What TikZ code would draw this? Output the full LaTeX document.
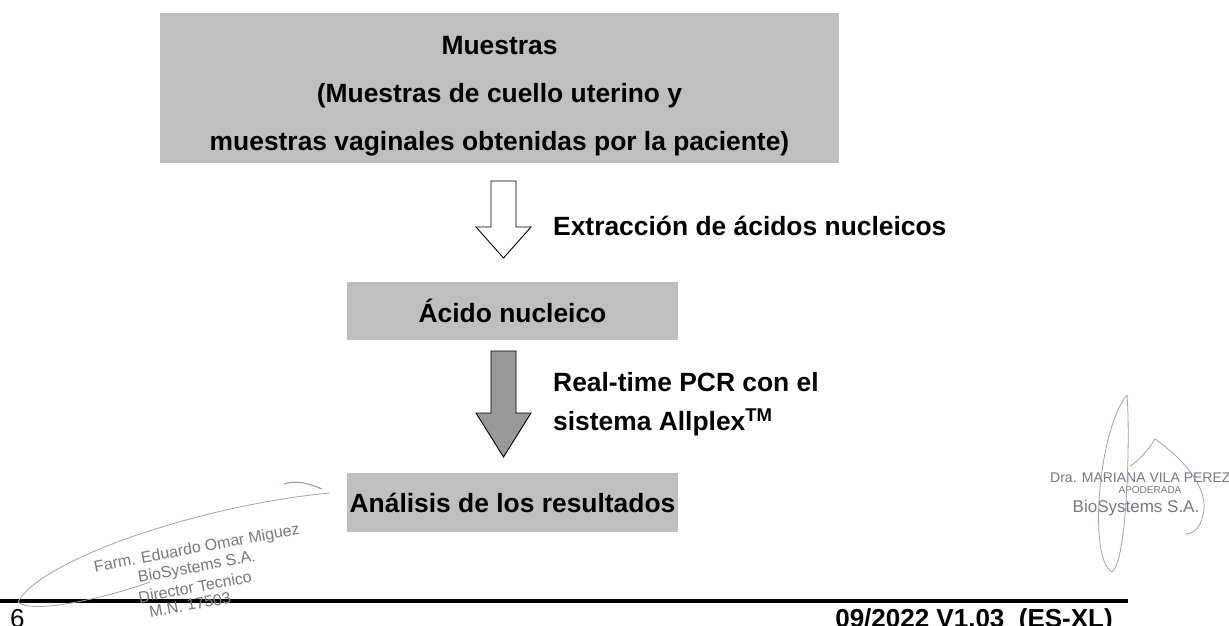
\documentclass[tikz,border=0pt]{standalone}
\usepackage{fontspec}
\setmainfont{Liberation Sans}
\usetikzlibrary{calc}
\definecolor{boxgray}{RGB}{191,191,191}
\definecolor{arrgray}{RGB}{153,153,153}
\definecolor{stampgray}{RGB}{120,120,128}
\definecolor{siggray}{RGB}{160,162,185}
\begin{document}
\begin{tikzpicture}[x=1pt,y=-1pt,
  graybox/.style={fill=boxgray, draw=none, inner sep=0pt},
  maintext/.style={font=\fontsize{26.4}{48}\selectfont\bfseries, inner sep=0pt, text=black},
  stamptext/.style={font=\fontsize{16}{16}\selectfont, text=stampgray, inner sep=0pt},
  sigline/.style={draw=siggray, line width=0.8pt}
]
\useasboundingbox (0,0) rectangle (1229,626);
\fill[white] (0,0) rectangle (1229,626);

% boxes
\node[graybox, minimum width=679pt, minimum height=150pt] (top) at (499.5,88) {};
\node[maintext, align=center] (toptext) at (499.5,96) {Muestras\\(Muestras de cuello uterino y\\muestras vaginales obtenidas por la paciente)};

\node[graybox, minimum width=331pt, minimum height=58pt] (acido) at (512.5,311) {};
\node[maintext] (acidotext) at (512.5,311) {Ácido nucleico};

\node[graybox, minimum width=331pt, minimum height=59pt] (analisis) at (512.5,502) {};
\node[maintext] (analisistext) at (512.5,503) {Análisis de los resultados};

% open arrow
\coordinate (a1) at (503.5,181);
\draw[black, line width=0.9pt, fill=white]
  ($(a1)+(-12.5,0)$) -- ($(a1)+(12.5,0)$) -- ($(a1)+(12.5,46)$) -- ($(a1)+(27.5,46)$)
  -- ($(a1)+(0,77)$) -- ($(a1)+(-27.5,46)$) -- ($(a1)+(-12.5,46)$) -- cycle;
\node[maintext, anchor=west] (extr) at (553,226) {Extracción de ácidos nucleicos};

% gray arrow
\coordinate (a2) at (503.5,351);
\draw[black, line width=0.9pt, fill=arrgray]
  ($(a2)+(-12.5,0)$) -- ($(a2)+(12.5,0)$) -- ($(a2)+(12.5,62)$) -- ($(a2)+(27.5,62)$)
  -- ($(a2)+(0,106)$) -- ($(a2)+(-27.5,62)$) -- ($(a2)+(-12.5,62)$) -- cycle;
\node[maintext, anchor=west] (pcr1) at (553,382) {Real-time PCR con el};
\node[maintext, anchor=west] (pcr2) at (553,422) {sistema Allplex\textsuperscript{TM}};

% footer
\coordinate (fl) at (0,601);
\coordinate (fr) at (1128,601);
\draw[black, line width=4pt] (fl) -- (fr);
\node[font=\fontsize{26}{26}\selectfont, anchor=base west, inner sep=0pt] (pg) at (10,627) {6};
\node[font=\fontsize{26}{26}\selectfont\bfseries, anchor=base east, inner sep=0pt] (ver) at (1113,627) {09/2022 V1.03\ \ (ES-XL)};

% left stamp
\node[stamptext, rotate=10.5] (s1) at (197,549) {Farm. Eduardo Omar Miguez};
\node[stamptext, rotate=10.5] (s2) at (197,568) {BioSystems S.A.};
\node[stamptext, rotate=10.5] (s3) at (195,587) {Director Tecnico};
\node[stamptext, rotate=10.5] (s4) at (190,605) {M.N. 17503};
\draw[sigline] (330,493) .. controls (200,505) and (40,560) .. (18,602)
  .. controls (30,614) and (100,600) .. (150,582);
\draw[sigline, line width=1.2pt] (284,484) .. controls (296,480) and (308,483) .. (322,489);

% right stamp
\node[font=\fontsize{14}{14}\selectfont, text=stampgray, inner sep=0pt, anchor=west] (r1) at (1050,478) {Dra. MARIANA VILA PEREZ};
\node[font=\fontsize{10}{10}\selectfont, text=stampgray, inner sep=0pt] (r2) at (1150,490) {APODERADA};
\node[font=\fontsize{17}{17}\selectfont, text=stampgray, inner sep=0pt] (r3) at (1136,508) {BioSystems S.A.};
\draw[sigline] (1127,395) .. controls (1098,430) and (1088,560) .. (1112,572)
  .. controls (1128,560) and (1130,430) .. (1127,395);
\draw[sigline] (1130,466) .. controls (1140,460) and (1148,450) .. (1155,439)
  .. controls (1185,460) and (1210,490) .. (1203,515)
  .. controls (1200,530) and (1192,534) .. (1185,534);
\end{tikzpicture}
\end{document}
